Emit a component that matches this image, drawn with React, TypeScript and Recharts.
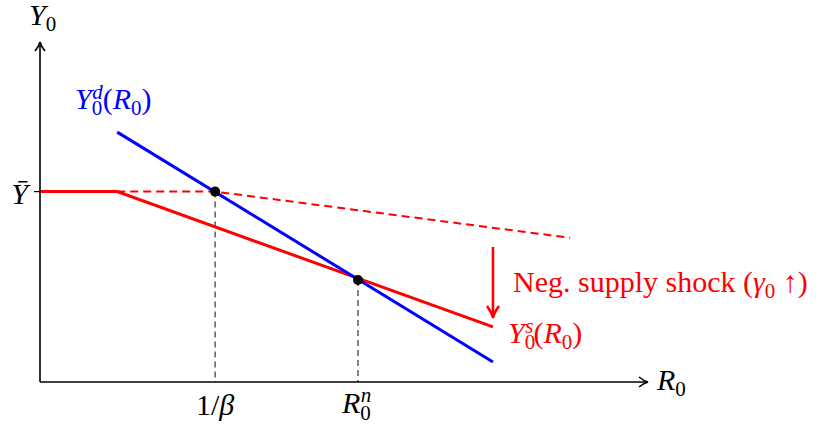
import { ComposedChart, Line, XAxis, YAxis, ReferenceLine, ReferenceDot, Customized } from 'recharts';

const FONT = '"Liberation Serif", "DejaVu Serif", serif';
const BLUE = '#0000ff';
const RED = '#ff0000';

// key levels on the axes
const Y_BAR = 5.6;
const ONE_OVER_BETA = 2.88;
const R_NATURAL = 5.23;
const Y_NATURAL = 3.0;

// curves (R0, Y0)
const supplyNew = [
  { r: 0, y: 5.6 },
  { r: 1.27, y: 5.6 },
  { r: 7.45, y: 1.62 },
];
const supplyOld = [
  { r: 1.27, y: 5.6 },
  { r: 2.88, y: 5.6 },
  { r: 8.72, y: 4.24 },
];
const demand = [
  { r: 1.27, y: 7.35 },
  { r: 7.45, y: 0.59 },
];

// shock arrow
const shockArrow = [
  { x: 7.45, y: 3.97 },
  { x: 7.45, y: 1.88 },
];

const xTicks = [ONE_OVER_BETA, R_NATURAL];
const yTicks = [Y_BAR];

const FS = 30;
const SUB = 21;

function XTick(props: any) {
  const { x, y, payload } = props;
  if (payload.value === ONE_OVER_BETA) {
    return (
      <text x={x} y={y + 25} textAnchor="middle" fontFamily={FONT} fontSize={FS} fill="#000">
        1/<tspan fontStyle="italic">β</tspan>
      </text>
    );
  }
  return (
    <text x={x - 16} y={y + 23} fontFamily={FONT} fontSize={FS} fill="#000">
      <tspan fontStyle="italic">R</tspan>
      <tspan fontSize={SUB} dy={7}>0</tspan>
      <tspan fontSize={SUB} fontStyle="italic" dx={-10} dy={-18}>n</tspan>
    </text>
  );
}

function YTick(props: any) {
  const { x, y } = props;
  return (
    <text x={x - 4} y={y + 12} textAnchor="end" fontFamily={FONT} fontSize={FS} fontStyle="italic" fill="#000">
      Ȳ
    </text>
  );
}

function AxisArrowX(props: any) {
  const { cx, cy } = props;
  return (
    <path
      d={`M ${cx - 9} ${cy - 5} Q ${cx - 4} ${cy - 1} ${cx} ${cy} Q ${cx - 4} ${cy + 1} ${cx - 9} ${cy + 5}`}
      stroke="#000" strokeWidth={1.6} fill="none"
    />
  );
}

function AxisArrowY(props: any) {
  const { cx, cy } = props;
  return (
    <path
      d={`M ${cx - 5} ${cy + 9} Q ${cx - 1} ${cy + 4} ${cx} ${cy} Q ${cx + 1} ${cy + 4} ${cx + 5} ${cy + 9}`}
      stroke="#000" strokeWidth={1.6} fill="none"
    />
  );
}

function ShockShape(props: any) {
  const { x1, y1, x2, y2 } = props;
  return (
    <g>
      <line x1={x1} y1={y1} x2={x2} y2={y2 - 2} stroke={RED} strokeWidth={2.6} />
      <path
        d={`M ${x2 - 6} ${y2 - 12} Q ${x2 - 1} ${y2 - 5} ${x2} ${y2} Q ${x2 + 1} ${y2 - 5} ${x2 + 6} ${y2 - 12}`}
        stroke={RED} strokeWidth={2.6} fill="none" strokeLinejoin="miter"
      />
    </g>
  );
}

function Labels() {
  return (
    <g fontFamily={FONT} fontSize={FS}>
      <text x={29} y={25} fill="#000">
        <tspan fontStyle="italic">Y</tspan>
        <tspan fontSize={SUB} dy={6}>0</tspan>
      </text>
      <text x={657} y={390} fill="#000">
        <tspan fontStyle="italic">R</tspan>
        <tspan fontSize={SUB} dy={6}>0</tspan>
      </text>
      <text x={75} y={109} fill={BLUE}>
        <tspan fontStyle="italic">Y</tspan>
        <tspan fontSize={SUB} dy={6}>0</tspan>
        <tspan fontSize={SUB} fontStyle="italic" dx={-10} dy={-16}>d</tspan>
        <tspan dy={10}>(</tspan>
        <tspan fontStyle="italic">R</tspan>
        <tspan fontSize={SUB} dy={6}>0</tspan>
        <tspan dy={-6}>)</tspan>
      </text>
      <text x={508} y={343} fill={RED}>
        <tspan fontStyle="italic">Y</tspan>
        <tspan fontSize={SUB} dy={6}>0</tspan>
        <tspan fontSize={SUB} fontStyle="italic" dx={-10} dy={-16}>s</tspan>
        <tspan dy={10}>(</tspan>
        <tspan fontStyle="italic">R</tspan>
        <tspan fontSize={SUB} dy={6}>0</tspan>
        <tspan dy={-6}>)</tspan>
      </text>
      <text x={513} y={292} fill={RED}>
        {'Neg. supply shock ('}
        <tspan fontStyle="italic">γ</tspan>
        <tspan fontSize={SUB} dy={6}>0</tspan>
        <tspan dy={-6}>{' ↑)'}</tspan>
      </text>
    </g>
  );
}

export default function App() {
  return (
    <div style={{ position: 'absolute', left: 0, top: 0, width: 832, height: 429, background: '#fff' }}>
      <ComposedChart width={832} height={429} margin={{ top: 42, right: 184, left: 0, bottom: 0 }}>
        <XAxis
          dataKey="r"
          type="number"
          domain={[0, 10]}
          ticks={xTicks}
          tick={<XTick />}
          tickLine={false}
          axisLine={{ stroke: '#000', strokeWidth: 1.6 }}
          height={47}
          allowDataOverflow
        />
        <YAxis
          dataKey="y"
          type="number"
          domain={[0, 10]}
          ticks={yTicks}
          tick={<YTick />}
          tickSize={6}
          tickLine={{ stroke: '#000', strokeWidth: 1.2 }}
          axisLine={{ stroke: '#000', strokeWidth: 1.6 }}
          width={40}
          allowDataOverflow
        />
        <ReferenceLine
          segment={[{ x: ONE_OVER_BETA, y: Y_BAR }, { x: ONE_OVER_BETA, y: 0 }]}
          stroke="#333" strokeWidth={1.2} strokeDasharray="6 4"
        />
        <ReferenceLine
          segment={[{ x: R_NATURAL, y: Y_NATURAL }, { x: R_NATURAL, y: 0 }]}
          stroke="#333" strokeWidth={1.2} strokeDasharray="6 4"
        />
        <Line data={supplyOld} dataKey="y" stroke={RED} strokeWidth={2} strokeDasharray="8 5" dot={false} activeDot={false} isAnimationActive={false} />
        <Line data={supplyNew} dataKey="y" stroke={RED} strokeWidth={3} dot={false} activeDot={false} isAnimationActive={false} />
        <Line data={demand} dataKey="y" stroke={BLUE} strokeWidth={3} dot={false} activeDot={false} isAnimationActive={false} />
        <ReferenceLine segment={shockArrow} shape={<ShockShape />} />
        <ReferenceDot x={ONE_OVER_BETA} y={Y_BAR} r={5} fill="#000" stroke="none" />
        <ReferenceDot x={R_NATURAL} y={Y_NATURAL} r={5} fill="#000" stroke="none" />
        <ReferenceDot x={10} y={0} ifOverflow="visible" shape={<AxisArrowX />} />
        <ReferenceDot x={0} y={10} ifOverflow="visible" shape={<AxisArrowY />} />
        <Customized component={<Labels />} />
      </ComposedChart>
    </div>
  );
}
